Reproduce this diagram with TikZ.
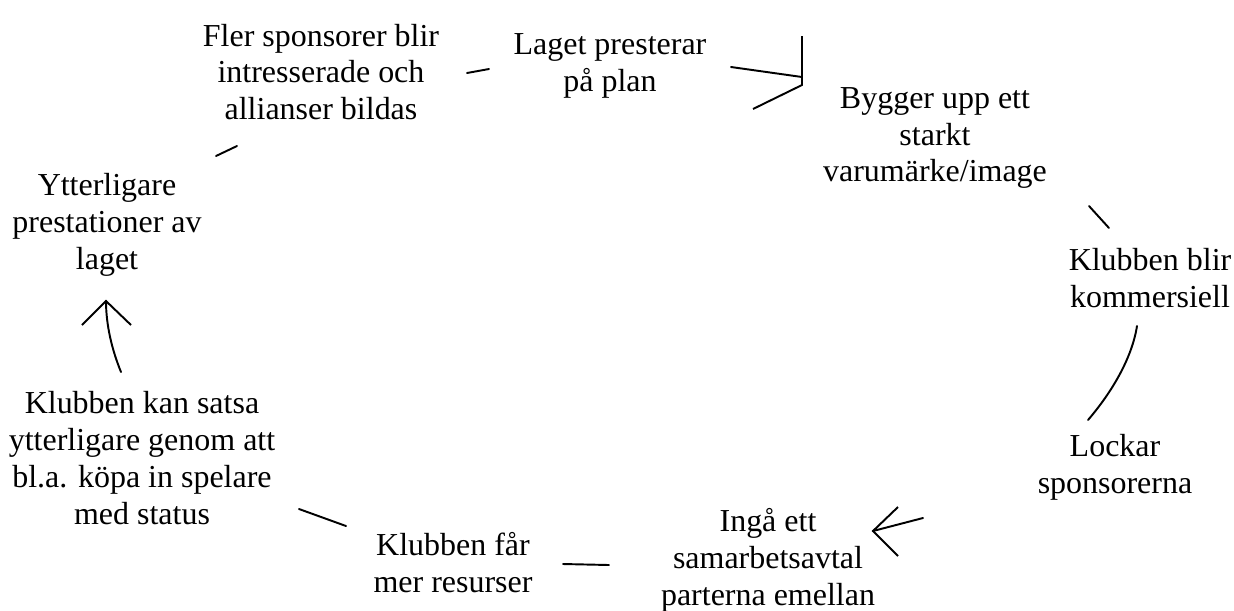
\documentclass[tikz,border=0pt]{standalone}
\usepackage{fontspec}
\setmainfont{Liberation Serif}
\usetikzlibrary{arrows.meta, positioning}
\tikzset{
    stage/.style={align=center, inner sep=0pt, font=\fontsize{18.2}{21}\selectfont}, % the texts of the cycle
    link/.style={line width=1.1pt, line cap=round}, % the short connectors
    head/.style={line width=1.1pt, line join=miter} % the drawn arrow heads
}

\begin{document}
\begin{tikzpicture}[x=0.02cm, y=-0.02cm]
        \useasboundingbox (0,0) rectangle (1234,610);

        \node[stage] (laget) at (610,66) {Laget presterar\\på plan};
        \node[stage] (bygger) at (935,138) {Bygger upp ett\\starkt\\varumärke/image};
        \node[stage] (kommers) at (1150,278) {Klubben blir\\kommersiell};
        \node[stage] (lockar) at (1115,467) {Lockar\\sponsorerna};
        \node[stage] (inga) at (768,560) {Ingå ett\\samarbetsavtal\\parterna emellan};
        \node[stage] (far) at (453,563) {Klubben får\\mer resurser};
        \node[stage] (satsa) at (142,458) {Klubben kan satsa\\ytterligare genom att\\bl.a. köpa in spelare\\med status};
        \node[stage] (ytter) at (107,225) {Ytterligare\\prestationer av\\laget};
        \node[stage] (fler) at (321,72) {Fler sponsorer blir\\intresserade och\\allianser bildas};

        % ends of the connectors
        \coordinate (fler-a) at (467,73);
        \coordinate (fler-b) at (489,69);
        \coordinate (laget-a) at (731,67);
        \coordinate (laget-b) at (802,77);
        \coordinate (laget-h1) at (802,36);
        \coordinate (laget-h2) at (802,85);
        \coordinate (laget-h3) at (753,109);
        \coordinate (bygger-a) at (1089,206);
        \coordinate (bygger-b) at (1109,228);
        \coordinate (kommers-a) at (1137,326);
        \coordinate (kommers-b) at (1088,420);
        \coordinate (lockar-a) at (923,518);
        \coordinate (lockar-b) at (873,531);
        \coordinate (lockar-h1) at (898,507);
        \coordinate (lockar-h2) at (898,556);
        \coordinate (inga-a) at (609,565);
        \coordinate (inga-b) at (563,564);
        \coordinate (far-a) at (346,526);
        \coordinate (far-b) at (299,509);
        \coordinate (satsa-a) at (121,372);
        \coordinate (satsa-b) at (106,301);
        \coordinate (satsa-h1) at (82,325);
        \coordinate (satsa-h2) at (131,325);
        \coordinate (ytter-a) at (216,156);
        \coordinate (ytter-b) at (237,146);

        \draw[link] (fler-a) -- (fler-b);
        \draw[link] (laget-a) -- (laget-b);
        \draw[head] (laget-h1) -- (laget-h2) -- (laget-h3);
        \draw[link] (bygger-a) -- (bygger-b);
        \draw[link] (kommers-a) .. controls (1132,358) and (1112,392) .. (kommers-b);
        \draw[link] (lockar-a) -- (lockar-b);
        \draw[head] (lockar-h1) -- (lockar-b) -- (lockar-h2);
        \draw[link] (inga-a) -- (inga-b);
        \draw[link] (far-a) -- (far-b);
        \draw[link] (satsa-a) .. controls (112,350) and (106,325) .. (satsa-b);
        \draw[head] (satsa-h1) -- (satsa-b) -- (satsa-h2);
        \draw[link] (ytter-a) -- (ytter-b);

    \end{tikzpicture}
\end{document}
